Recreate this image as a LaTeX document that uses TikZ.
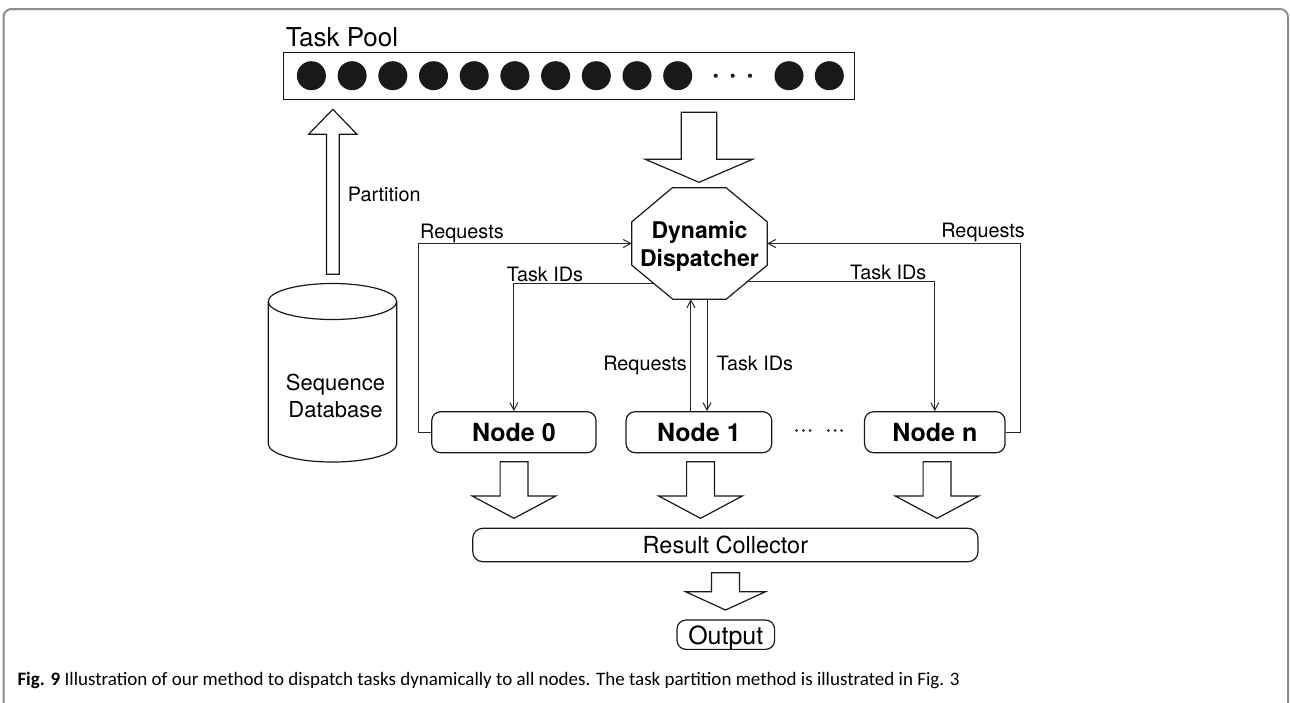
\documentclass[tikz,border=0pt]{standalone}
\usepackage{fontspec}
\setmainfont{TeX Gyre Heros}
\newfontfamily\capfont{Carlito}
\usetikzlibrary{calc,arrows.meta}

% hollow block arrow: centre x, tail y, shoulder y, tip y, half shaft, half head
\newcommand{\blockarrow}[6]{%
  \draw[blk] (#1-#5,#2) -- (#1+#5,#2) -- (#1+#5,#3) -- (#1+#6,#3) -- (#1,#4)
    -- (#1-#6,#3) -- (#1-#5,#3) -- cycle;}

\begin{document}
\begin{tikzpicture}[x=1pt,y=-1pt,
  ink/.style={draw=black!90, line width=1.2pt},
  blk/.style={draw=black!90, line width=1.2pt, fill=white, line join=miter},
  conn/.style={draw=black!85, line width=1pt},
  tip/.style={-{Straight Barb[length=7.5pt,width=8pt]}},
  box/.style={draw=black!90, line width=1.2pt, rounded corners=9pt, inner sep=0pt},
  lbl/.style={font=\fontsize{19.8}{22}\selectfont, inner sep=0pt},
  nodetext/.style={font=\bfseries\fontsize{25}{28}\selectfont},
]
\useasboundingbox (0,0) rectangle (1290,702);

% outer frame, open at the bottom
\draw[draw=black!45, line width=2pt, rounded corners=8pt]
  (3.5,760) -- (3.5,9) -- (1288,9) -- (1288,760);

% task pool
\node[anchor=base west, inner sep=0pt, font=\fontsize{26}{30}\selectfont] (pooltitle)
  at (285.6,46.7) {Task Pool};
\node[draw=black!90, line width=1.2pt, minimum width=570.7, minimum height=46.8,
  inner sep=0pt] (pool) at (569,75.9) {};
\foreach \i in {0,...,9} \fill[black!90] (311.4+40.7*\i,75.7) circle[radius=14.5];
\foreach \x in {789,829.3} \fill[black!90] (\x,75.7) circle[radius=14.5];
\foreach \x in {715.7,732.7,750} \fill[black!90] (\x,75.7) circle[radius=2.1];

% sequence database
\draw[ink, fill=white] (268.3,301.5) -- (268.3,444)
  arc[start angle=180, end angle=0, x radius=64.2, y radius=18] -- (396.7,301.5);
\draw[ink] (332.5,301.5) ellipse[x radius=64.2, y radius=18];
\node[align=center, inner sep=0pt, font=\fontsize{22}{26.6}\selectfont] (db)
  at (335.5,396) {Sequence\\Database};

% partition arrow
\blockarrow{332.8}{274.3}{134.3}{109.3}{6.4}{24.2}
\node[lbl, anchor=base west] (parttext) at (347.7,201.7) {Partition};

% dispatcher
\blockarrow{699}{112.3}{159.3}{182.3}{17.7}{53.7}
\node[minimum width=135, minimum height=111, inner sep=0pt] (disp) at (699.5,243.5) {};
\draw[ink] ($(disp.north west)+(40.5,0)$) -- ($(disp.north east)+(-41,0)$)
  -- ($(disp.north east)+(0,34)$) -- ($(disp.south east)+(0,-34)$)
  -- ($(disp.south east)+(-41,0)$) -- ($(disp.south west)+(41,0)$)
  -- ($(disp.south west)+(0,-34)$) -- ($(disp.north west)+(0,34)$) -- cycle;
\node[align=center, inner sep=0pt, font=\bfseries\fontsize{23}{28.4}\selectfont] (disptext)
  at (699.5,246.4) {Dynamic\\Dispatcher};

% worker nodes
\node[box, nodetext, minimum width=164.3, minimum height=41] (node0) at (513.9,432.2) {Node 0};
\node[box, nodetext, minimum width=145.7, minimum height=41] (node1) at (698.9,432.2) {Node 1};
\node[box, nodetext, minimum width=140.5, minimum height=41] (noden) at (934.8,432.2) {Node n};
\foreach \x in {796.5,803.3,810,828.3,835,841.7} \fill[black!85] (\x,430.5) circle[radius=1.5];

% requests / task IDs
\coordinate (tidl) at ($(disp.center)+(-45.5,39.8)$);
\coordinate (tidr) at ($(disp.center)+(46.4,38.2)$);
\draw[conn, tip] (node0.west) -- ++(-12.3,0) |- (disp.west);
\draw[conn, tip] (noden.east) -- ++(15,0) |- (disp.east);
\draw[conn, tip] (tidl) -| (node0.north);
\draw[conn, tip] (tidr) -| (noden.north);
\draw[conn, tip] ([xshift=-8pt]node1.north) -- ([xshift=-8pt]node1.north |- disp.south);
\draw[conn, tip] ([xshift=7.5pt]disp.south) -- ([xshift=7.5pt]disp.south |- node1.north);

\node[lbl, anchor=base west] (reql) at (420,238) {Requests};
\node[lbl, anchor=base east] (reqr) at (1025,237.7) {Requests};
\node[lbl, anchor=base east] (reqm) at (687,370.7) {Requests};
\node[lbl, anchor=base west] (tidlt) at (506.7,281) {Task IDs};
\node[lbl, anchor=base west] (tidrt) at (850,279.5) {Task IDs};
\node[lbl, anchor=base west] (tidmt) at (716.7,370.7) {Task IDs};

% results
\blockarrow{514}{461.7}{496}{518.3}{13.9}{41.8}
\blockarrow{700.5}{461.7}{496}{518.3}{13.9}{41.8}
\blockarrow{937}{461.7}{496}{518.3}{13.9}{41.8}
\node[box, rounded corners=10pt, minimum width=505.3, minimum height=33.4,
  font=\fontsize{23.5}{26}\selectfont] (coll) at (725.4,545) {Result Collector};
\blockarrow{725.5}{572.7}{591.7}{610}{14}{40}
\node[box, minimum width=97.6, minimum height=29.3, text depth=0pt,
  font=\fontsize{25}{28}\selectfont] (out) at (725.8,634.7) {Output};

% caption
\node[anchor=base west, inner sep=0pt, font=\capfont\fontsize{19}{21}\selectfont] (cap)
  at (17.3,685.7) {\textbf{Fig. 9} Illustration of our method to dispatch tasks dynamically to all nodes. The task partition method is illustrated in Fig. 3};
\end{tikzpicture}
\end{document}
